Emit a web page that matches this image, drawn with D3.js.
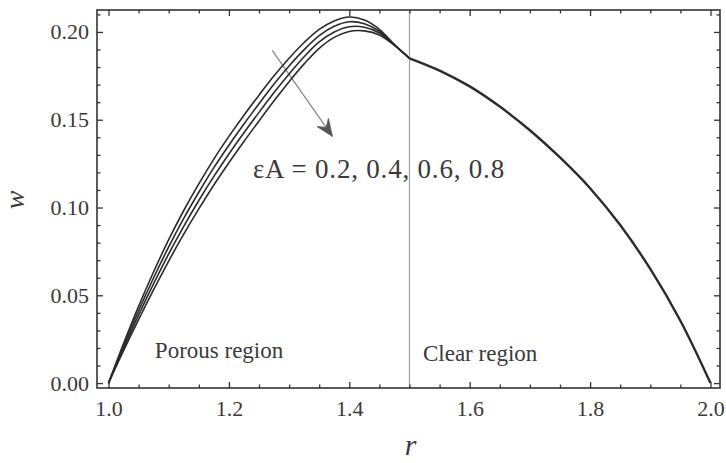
<!DOCTYPE html>
<html>
<head>
<meta charset="utf-8">
<script src="https://cdn.jsdelivr.net/npm/d3@7/dist/d3.min.js"></script>
<style>
  body { margin: 0; background: #ffffff; }
  svg { display: block; }
  text { font-family: "Liberation Serif", "Times New Roman", serif; fill: #3a3a3a; }
</style>
</head>
<body>
<svg id="chart" width="726" height="463"></svg>
<script>
// Radial positions in the porous layer (1 ≤ r ≤ 1.5)
const rPorous = [1.000, 1.025, 1.050, 1.075, 1.100, 1.125, 1.150, 1.175, 1.200, 1.225,
                 1.250, 1.275, 1.300, 1.325, 1.350, 1.375, 1.400, 1.425, 1.450, 1.475, 1.500];

// Axial velocity w in the porous layer, one array per εA value
const wEpsA02 = [0.0000, 0.0225, 0.0437, 0.0634, 0.0817, 0.0983, 0.1135, 0.1276, 0.1405, 0.1526,
                 0.1640, 0.1750, 0.1850, 0.1940, 0.2015, 0.2063, 0.2085, 0.2068, 0.2015, 0.1928, 0.1850];
const wEpsA04 = [0.0000, 0.0212, 0.0412, 0.0600, 0.0776, 0.0938, 0.1087, 0.1227, 0.1355, 0.1476,
                 0.1591, 0.1703, 0.1806, 0.1899, 0.1979, 0.2032, 0.2058, 0.2047, 0.2004, 0.1926, 0.1850];
const wEpsA06 = [0.0000, 0.0198, 0.0387, 0.0566, 0.0736, 0.0893, 0.1040, 0.1177, 0.1305, 0.1426,
                 0.1542, 0.1655, 0.1761, 0.1859, 0.1943, 0.2000, 0.2030, 0.2027, 0.1994, 0.1925, 0.1850];
const wEpsA08 = [0.0000, 0.0185, 0.0362, 0.0532, 0.0695, 0.0848, 0.0992, 0.1128, 0.1255, 0.1376,
                 0.1493, 0.1608, 0.1717, 0.1818, 0.1907, 0.1969, 0.2003, 0.2006, 0.1983, 0.1923, 0.1850];

// Clear fluid region (1.5 ≤ r ≤ 2): the profiles coincide here
const rClear = [1.50, 1.55, 1.60, 1.65, 1.70, 1.75, 1.80, 1.85, 1.90, 1.95, 2.00];
const wClear = [0.1850, 0.1780, 0.1690, 0.1575, 0.1440, 0.1285, 0.1110, 0.0900, 0.0650, 0.0355, 0.0000];

const epsAValues = ["0.2", "0.4", "0.6", "0.8"];
const porousSeries = [wEpsA02, wEpsA04, wEpsA06, wEpsA08];

const xTicks = [1.0, 1.2, 1.4, 1.6, 1.8, 2.0];
const yTicks = [0.00, 0.05, 0.10, 0.15, 0.20];
const interfaceR = 1.5;

const svg = d3.select("#chart");
const frame = { left: 97, right: 720, top: 10, bottom: 388 };

const x = d3.scaleLinear().domain([0.9809, 2.0158]).range([frame.left, frame.right]);
const y = d3.scaleLinear().domain([-0.0028, 0.2125]).range([frame.bottom, frame.top]);

const xMinor = d3.range(1.0, 2.0001, 0.05).map(v => +v.toFixed(2)).filter(v => !xTicks.some(t => Math.abs(t - v) < 1e-6));
const yMinor = d3.range(0.0, 0.2101, 0.01).map(v => +v.toFixed(2)).filter(v => !yTicks.some(t => Math.abs(t - v) < 1e-6));

const tickColor = "#333";
function styleAxis(g) {
  g.select(".domain").remove();
  g.selectAll(".tick line").attr("stroke", tickColor).attr("stroke-width", 1.3);
  g.selectAll(".tick text").attr("fill", "#3a3a3a").style("font-size", "22px")
    .style("font-family", '"Liberation Serif", "Times New Roman", serif');
}

// Porous / clear interface
svg.append("line")
  .attr("x1", x(interfaceR)).attr("x2", x(interfaceR))
  .attr("y1", frame.top).attr("y2", frame.bottom)
  .attr("stroke", "#a8a8a8").attr("stroke-width", 1.3);

// Bottom axis with labels
svg.append("g").attr("transform", `translate(0,${frame.bottom})`)
  .call(d3.axisBottom(x).tickValues(xTicks).tickSize(-6).tickPadding(12).tickFormat(d3.format(".1f")))
  .call(styleAxis);
svg.append("g").attr("transform", `translate(0,${frame.bottom})`)
  .call(d3.axisBottom(x).tickValues(xMinor).tickSize(-3.5).tickFormat(""))
  .call(styleAxis);
// Top axis (ticks only)
svg.append("g").attr("transform", `translate(0,${frame.top})`)
  .call(d3.axisTop(x).tickValues(xTicks).tickSize(-6).tickFormat(""))
  .call(styleAxis);
svg.append("g").attr("transform", `translate(0,${frame.top})`)
  .call(d3.axisTop(x).tickValues(xMinor).tickSize(-3.5).tickFormat(""))
  .call(styleAxis);
// Left axis with labels
svg.append("g").attr("transform", `translate(${frame.left},0)`)
  .call(d3.axisLeft(y).tickValues(yTicks).tickSize(-6).tickPadding(8).tickFormat(d3.format(".2f")))
  .call(styleAxis);
svg.append("g").attr("transform", `translate(${frame.left},0)`)
  .call(d3.axisLeft(y).tickValues(yMinor).tickSize(-3.5).tickFormat(""))
  .call(styleAxis);
// Right axis (ticks only)
svg.append("g").attr("transform", `translate(${frame.right},0)`)
  .call(d3.axisRight(y).tickValues(yTicks).tickSize(-6).tickFormat(""))
  .call(styleAxis);
svg.append("g").attr("transform", `translate(${frame.right},0)`)
  .call(d3.axisRight(y).tickValues(yMinor).tickSize(-3.5).tickFormat(""))
  .call(styleAxis);

// Plot frame
svg.append("rect")
  .attr("x", frame.left).attr("y", frame.top)
  .attr("width", frame.right - frame.left).attr("height", frame.bottom - frame.top)
  .attr("fill", "none").attr("stroke", "#333").attr("stroke-width", 1.6);

// Arrow showing the direction of increasing εA
const arrowStart = [1.272, 0.1895], arrowEnd = [1.372, 0.1405];
const ax0 = x(arrowStart[0]), ay0 = y(arrowStart[1]);
const ax1 = x(arrowEnd[0]), ay1 = y(arrowEnd[1]);
svg.append("line")
  .attr("x1", ax0).attr("y1", ay0).attr("x2", ax1).attr("y2", ay1)
  .attr("stroke", "#8a8a8a").attr("stroke-width", 1.3);
const ang = Math.atan2(ay1 - ay0, ax1 - ax0);
const headLen = 17, headHalf = 7, notch = 11;
const ux = Math.cos(ang), uy = Math.sin(ang), px = -uy, py = ux;
const head = [
  [ax1, ay1],
  [ax1 - ux * headLen + px * headHalf, ay1 - uy * headLen + py * headHalf],
  [ax1 - ux * notch, ay1 - uy * notch],
  [ax1 - ux * headLen - px * headHalf, ay1 - uy * headLen - py * headHalf]
];
svg.append("path").attr("d", "M" + head.map(p => p.join(",")).join("L") + "Z")
  .attr("fill", "#555").attr("stroke", "#555").attr("stroke-width", 0.8);

// Velocity profiles
const line = d3.line().x(d => x(d[0])).y(d => y(d[1])).curve(d3.curveCatmullRom.alpha(0.5));
const curves = svg.append("g").attr("fill", "none").attr("stroke", "#2b2b2b")
  .attr("stroke-width", 1.6).attr("stroke-linejoin", "round");
porousSeries.forEach(ws => {
  curves.append("path").attr("d", line(rPorous.map((r, i) => [r, ws[i]])));
});
curves.append("path").attr("d", line(rClear.map((r, i) => [r, wClear[i]])))
  .attr("stroke-width", 2.4);

// Annotations
svg.append("text").attr("x", x(1.24)).attr("y", y(0.1168))
  .style("font-size", "27px").style("letter-spacing", "0.8px")
  .text("εA = " + epsAValues.join(", "));
svg.append("text").attr("x", x(1.077)).attr("y", y(0.0143))
  .style("font-size", "23px")
  .text("Porous region");
svg.append("text").attr("x", x(1.5224)).attr("y", y(0.0125))
  .style("font-size", "23px")
  .text("Clear region");

// Axis titles
svg.append("text").attr("x", (frame.left + frame.right) / 2 + 2).attr("y", 455)
  .attr("text-anchor", "middle").style("font-size", "30px").style("font-style", "italic")
  .text("r");
svg.append("text").attr("transform", "translate(24,200) rotate(-90)")
  .attr("text-anchor", "middle").style("font-size", "28px").style("font-style", "italic")
  .text("w");
</script>
</body>
</html>
